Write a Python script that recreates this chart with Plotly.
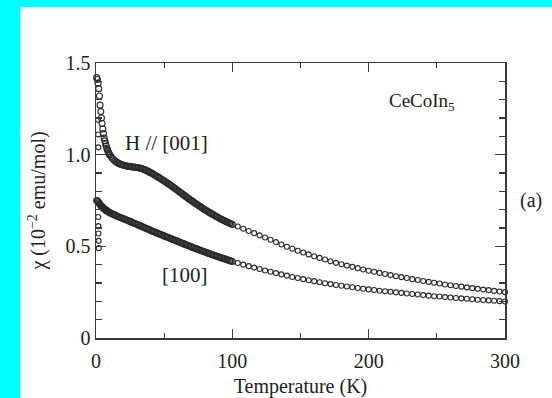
import plotly.graph_objects as go

# ---------------- data ----------------
T_dense = [0.5, 1.0, 1.5, 2.0, 2.5, 3.0, 3.5, 4.0, 4.5, 5.0,
           5.5, 6.0, 6.5, 7.0, 7.5, 8.0, 8.5, 9.0, 9.5, 10.0] + list(range(11, 101))
chi_001_dense = [1.42, 1.41, 1.39, 1.36, 1.32, 1.27, 1.235, 1.20, 1.17, 1.14,
                 1.115, 1.09, 1.075, 1.06, 1.047, 1.035, 1.025, 1.015, 1.007, 1.00,
                 0.99, 0.98, 0.972, 0.965, 0.96, 0.955, 0.951, 0.948, 0.945, 0.943,
                 0.941, 0.939, 0.937, 0.936, 0.935, 0.934, 0.933, 0.932, 0.931, 0.930,
                 0.929, 0.927, 0.925, 0.923, 0.920, 0.917, 0.914, 0.910, 0.906, 0.902,
                 0.898, 0.894, 0.889, 0.885, 0.880, 0.876, 0.871, 0.866, 0.862, 0.857,
                 0.852, 0.847, 0.842, 0.837, 0.832, 0.826, 0.821, 0.815, 0.810, 0.804,
                 0.799, 0.793, 0.788, 0.782, 0.777, 0.771, 0.766, 0.760, 0.755, 0.750,
                 0.745, 0.739, 0.734, 0.729, 0.724, 0.719, 0.714, 0.709, 0.704, 0.699,
                 0.695, 0.690, 0.686, 0.681, 0.677, 0.673, 0.668, 0.664, 0.660, 0.656,
                 0.652, 0.648, 0.644, 0.641, 0.637, 0.633, 0.630, 0.626, 0.623, 0.619]
chi_100_dense = [0.750, 0.748, 0.743, 0.738, 0.733, 0.728, 0.723, 0.719, 0.715, 0.712,
                 0.708, 0.705, 0.702, 0.699, 0.696, 0.694, 0.691, 0.689, 0.686, 0.684,
                 0.680, 0.677, 0.673, 0.670, 0.667, 0.663, 0.660, 0.657, 0.654, 0.651,
                 0.648, 0.645, 0.642, 0.639, 0.636, 0.632, 0.629, 0.626, 0.623, 0.620,
                 0.617, 0.613, 0.610, 0.607, 0.604, 0.600, 0.597, 0.594, 0.591, 0.588,
                 0.584, 0.581, 0.578, 0.575, 0.572, 0.569, 0.566, 0.563, 0.560, 0.557,
                 0.554, 0.551, 0.548, 0.545, 0.542, 0.539, 0.536, 0.533, 0.530, 0.527,
                 0.524, 0.521, 0.518, 0.515, 0.512, 0.509, 0.506, 0.503, 0.500, 0.497,
                 0.494, 0.491, 0.488, 0.486, 0.483, 0.480, 0.477, 0.474, 0.472, 0.469,
                 0.466, 0.463, 0.461, 0.458, 0.455, 0.453, 0.450, 0.447, 0.445, 0.442,
                 0.440, 0.437, 0.435, 0.432, 0.430, 0.427, 0.425, 0.422, 0.420, 0.417]

T_sparse = list(range(104, 301, 4))
chi_001_sparse = [0.608, 0.596, 0.584, 0.572, 0.560, 0.548, 0.536, 0.523, 0.510, 0.498,
                  0.487, 0.476, 0.466, 0.456, 0.446, 0.437, 0.428, 0.419, 0.410, 0.402,
                  0.395, 0.388, 0.381, 0.374, 0.367, 0.361, 0.355, 0.349, 0.343, 0.337,
                  0.332, 0.327, 0.321, 0.316, 0.311, 0.306, 0.301, 0.297, 0.292, 0.288,
                  0.284, 0.280, 0.276, 0.272, 0.268, 0.264, 0.261, 0.257, 0.254, 0.250]
chi_100_sparse = [0.409, 0.400, 0.392, 0.384, 0.376, 0.368, 0.361, 0.354, 0.347, 0.340,
                  0.333, 0.327, 0.321, 0.315, 0.310, 0.304, 0.299, 0.294, 0.289, 0.285,
                  0.281, 0.277, 0.273, 0.269, 0.265, 0.262, 0.258, 0.255, 0.252, 0.249,
                  0.246, 0.243, 0.240, 0.237, 0.234, 0.231, 0.228, 0.226, 0.223, 0.221,
                  0.218, 0.216, 0.214, 0.211, 0.209, 0.207, 0.205, 0.203, 0.201, 0.199]

# low-temperature drop points
T_low_001 = [1.5, 1.6, 1.7]
chi_low_001 = [1.19, 1.11, 1.04]
T_low_100 = [1.6, 1.7, 1.8, 1.9, 2.0]
chi_low_100 = [0.66, 0.61, 0.57, 0.53, 0.49]

y_tickvals = [0, 0.5, 1.0, 1.5]
y_ticktext = ["0", "0.5", "1.0", "1.5"]
x_tickvals = [0, 100, 200, 300]
x_ticktext = ["0", "100", "200", "300"]

# ---------------- figure ----------------
FONT = "Liberation Serif, Times New Roman, serif"
INK = "#2a2a2a"


def mk(size):
    return dict(symbol="circle-open", size=size, color=INK, line=dict(width=1.1, color=INK))


fig = go.Figure()
for x, y, s in [(T_dense, chi_001_dense, 6), (T_sparse, chi_001_sparse, 5), (T_low_001, chi_low_001, 5),
                (T_dense, chi_100_dense, 6), (T_sparse, chi_100_sparse, 5), (T_low_100, chi_low_100, 5)]:
    fig.add_trace(go.Scatter(x=x, y=y, mode="markers", marker=mk(s), showlegend=False,
                             cliponaxis=False, hoverinfo="skip"))

# white panel on the cyan page
fig.add_shape(type="rect", xref="paper", yref="paper", x0=(20 - 96) / 409, x1=(552 - 96) / 409,
              y0=-60 / 275, y1=(398 - 7 - 60) / 275, fillcolor="white", line=dict(width=0), layer="below")

axis_common = dict(showgrid=False, zeroline=False, showline=True, linecolor="#3a3a3a", linewidth=1.5,
                   mirror="ticks", ticks="inside", tickcolor="#3a3a3a", tickwidth=1.2, automargin=False,
                   tickfont=dict(family=FONT, size=20, color="#222"))

fig.update_xaxes(range=[0, 300], tickvals=x_tickvals, ticktext=x_ticktext, ticklen=9,
                 ticklabelstandoff=4,
                 minor=dict(ticks="inside", dtick=50, ticklen=5, tickcolor="#3a3a3a", tickwidth=1.2),
                 title=dict(text="Temperature (K)", font=dict(family=FONT, size=20, color="#222"), standoff=9),
                 **axis_common)
fig.update_yaxes(range=[0, 1.5], tickvals=y_tickvals, ticktext=y_ticktext, ticklen=10,
                 minor=dict(ticks="inside", dtick=0.1, ticklen=6, tickcolor="#3a3a3a", tickwidth=1.2),
                 title=dict(text="χ (10<sup>−2</sup> emu/mol)", font=dict(family=FONT, size=20, color="#222"),
                            standoff=14),
                 **axis_common)

ann_font = dict(family=FONT, size=21, color="#222")
fig.add_annotation(x=20, y=1.064, xref="x", yref="y", text="H // [001]", showarrow=False,
                   xanchor="left", yanchor="middle", font=ann_font)
fig.add_annotation(x=47, y=0.345, xref="x", yref="y", text="[100]", showarrow=False,
                   xanchor="left", yanchor="middle", font=ann_font)
fig.add_annotation(x=265, y=1.287, xref="x", yref="y", text="CeCoIn<sub>5</sub>", showarrow=False,
                   xanchor="right", yanchor="middle", font=dict(family=FONT, size=19, color="#222"))
fig.add_annotation(x=(518 - 96) / 409, y=0.75, xref="paper", yref="y", text="(a)", showarrow=False,
                   xanchor="left", yanchor="middle", font=dict(family=FONT, size=20, color="#222"))

fig.update_layout(width=552, height=398, paper_bgcolor="#00FFFF", plot_bgcolor="white",
                  margin=dict(l=96, r=47, t=63, b=60, autoexpand=False), font=dict(family=FONT),
                  hovermode=False)

fig.write_html("out.html", config={"displayModeBar": False, "staticPlot": True},
               post_script="document.body.style.margin='0';document.body.style.overflow='hidden';"
                           "document.body.style.background='#00FFFF';")
